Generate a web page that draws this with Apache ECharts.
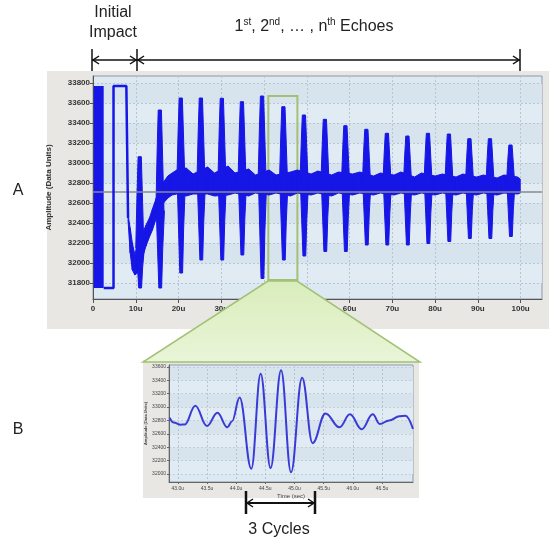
<!DOCTYPE html>
<html>
<head>
<meta charset="utf-8">
<script src="https://cdn.jsdelivr.net/npm/echarts@6/dist/echarts.min.js"></script>
<style>
html, body { margin: 0; padding: 0; background: #fff; }
#main { width: 550px; height: 542px; }
</style>
</head>
<body>
<div id="main"></div>
<script>
// ---- chart A : full record ----
const xTicksA = [0, 10, 20, 30, 40, 50, 60, 70, 80, 90, 100];
const yTicksA = [31800, 32000, 32200, 32400, 32600, 32800, 33000, 33200, 33400, 33600, 33800];

// noise band between echoes (time, low, high)
const bandT  = [8.2, 8.7, 9.2, 9.8, 10.4, 11.6, 12.4, 13.2, 13.9, 14.8, 15.5, 16.5, 17.5, 18.5, 19.6,
                21.8, 23.4, 26.8, 28.4, 31.6, 33.2, 36.4, 38.0, 41.2, 42.8, 46.2, 47.8, 51.0, 52.6,
                55.8, 57.4, 60.7, 62.4, 65.6, 67.2, 70.4, 72.0, 75.2, 76.8, 80.0, 81.7, 84.9, 86.5,
                89.7, 91.3, 94.5, 96.1, 99.3, 99.9];
const bandLo = [32420, 32100, 31930, 31880, 31900, 32060, 32170, 32260, 32330, 32450, 32500, 32600, 32650, 32680, 32690,
                32670, 32690, 32690, 32670, 32680, 32700, 32670, 32700, 32680, 32700, 32670, 32700, 32680, 32700,
                32670, 32700, 32680, 32700, 32680, 32700, 32680, 32700, 32680, 32700, 32680, 32700, 32680, 32700,
                32680, 32700, 32680, 32700, 32690, 32700];
const bandHi = [32480, 32350, 32200, 32080, 32200, 32300, 32380, 32450, 32540, 32650, 32700, 32810, 32870, 32900, 32930,
                32950, 32890, 32960, 32900, 32970, 32900, 32940, 32880, 32930, 32880, 32910, 32930, 32890, 32920,
                32880, 32910, 32890, 32910, 32870, 32900, 32880, 32910, 32860, 32900, 32870, 32890, 32860, 32890,
                32860, 32880, 32850, 32880, 32860, 32840];

// echo bursts
const echoT      = [11.0, 15.7, 20.6, 25.3, 30.2, 34.9, 39.6, 44.6, 49.4, 54.3, 59.1, 64.0, 68.8, 73.6, 78.4, 83.3, 88.1, 92.9, 97.7];
const echoTop    = [33063, 33530, 33650, 33650, 33647, 33613, 33670, 33563, 33480, 33437, 33373, 33337, 33297, 33270, 33297, 33290, 33243, 33243, 33180];
const echoBottom = [31750, 31750, 31900, 32030, 32030, 32080, 31845, 32030, 32070, 32115, 32115, 32180, 32180, 32180, 32195, 32215, 32245, 32245, 32265];
const echoMid    = [32150, 32520, 32800, 32800, 32800, 32800, 32800, 32800, 32800, 32800, 32800, 32800, 32800, 32800, 32800, 32800, 32800, 32800, 32800];

// initial impact: saturated block and the second square pulse
const blockT = [0.16, 2.5];
const blockV = [31750, 33770];
const pulseT = [2.5, 4.8, 4.8, 7.8, 8.2];
const pulseV = [31750, 31750, 33770, 33770, 32450];
const baseline = 32710;

// ---- chart B : zoom on one echo (turning points of the wave) ----
const xTicksB = [43.0, 43.5, 44.0, 44.5, 45.0, 45.5, 46.0, 46.5];
const yTicksB = [32000, 32200, 32400, 32600, 32800, 33000, 33200, 33400, 33600];
const timeB = [42.86, 42.93, 43.05, 43.12, 43.30, 43.50, 43.68, 43.85, 43.93, 44.06, 44.26, 44.42, 44.59,
               44.77, 44.94, 45.13, 45.31, 45.53, 45.77, 45.95, 46.15, 46.34, 46.46, 46.62, 46.80, 46.90, 47.03];
const ampB  = [32842, 32770, 32738, 32740, 33020, 32718, 32916, 32698, 32790, 33144, 32079, 33500, 32089,
               33550, 32025, 33441, 32461, 32906, 32698, 32892, 32669, 32892, 32748, 32800, 32865, 32870, 32674];

const BLUE = '#1616e6';
const PANEL = '#e8e7e4';
const PLOT = '#dce8f2';
const myChart = echarts.init(document.getElementById('main'));

function renderBand(params, api) {
  const i = params.dataIndex;
  if (i >= bandT.length - 1) return;
  const pts = [
    api.coord([bandT[i], bandHi[i]]),
    api.coord([bandT[i + 1], bandHi[i + 1]]),
    api.coord([bandT[i + 1], bandLo[i + 1]]),
    api.coord([bandT[i], bandLo[i]])
  ];
  return { type: 'polygon', shape: { points: pts }, style: { fill: BLUE, stroke: BLUE, lineWidth: 1 } };
}

function renderEcho(params, api) {
  const c = api.value(0), top = api.value(1), bot = api.value(2), mid = api.value(3);
  const h = top - mid, d = mid - bot;
  const up = [[c - 1.0, mid], [c - 0.7, mid + 0.6 * h], [c - 0.45, top], [c + 0.3, top], [c + 0.6, mid + 0.5 * h], [c + 0.9, mid]];
  const dn = [[c - 0.9, mid], [c - 0.6, mid - 0.5 * d], [c - 0.3, bot], [c + 0.35, bot], [c + 0.6, mid - 0.5 * d], [c + 1.0, mid]];
  const st = { fill: BLUE, stroke: BLUE, lineWidth: 1 };
  return {
    type: 'group',
    children: [
      { type: 'polygon', shape: { points: up.map(p => api.coord(p)) }, style: st },
      { type: 'polygon', shape: { points: dn.map(p => api.coord(p)) }, style: st }
    ]
  };
}

// little open arrow heads for the annotations
function head(x, y, dir) {
  return {
    type: 'polyline', z: 50,
    shape: { points: [[x + 6 * dir, y - 4], [x, y], [x + 6 * dir, y + 4]] },
    style: { stroke: '#111', lineWidth: 1.5, fill: null }
  };
}
function line(x1, y1, x2, y2, w) {
  return { type: 'line', z: 50, shape: { x1: x1, y1: y1, x2: x2, y2: y2 }, style: { stroke: '#111', lineWidth: w } };
}

const axisTxt = { fontSize: 8, fontWeight: 'bold', color: '#333', fontFamily: 'Liberation Sans' };
const smallTxt = { fontSize: 5, color: '#444', fontFamily: 'Liberation Sans' };
const annTxt = { fill: '#222', fontSize: 16, fontFamily: 'Liberation Sans' };

const option = {
  animation: false,
  grid: [
    { left: 93, top: 76, width: 449, height: 223, show: true, backgroundColor: PLOT, borderColor: '#8f9aa3', borderWidth: 1 },
    { left: 169, top: 365, width: 244, height: 117, show: true, backgroundColor: PLOT, borderColor: '#8f9aa3', borderWidth: 1 }
  ],
  xAxis: [
    {
      type: 'value', gridIndex: 0, min: 0, max: 105,
      axisLine: { show: true, lineStyle: { color: '#555' } },
      axisTick: { show: true, customValues: xTicksA, length: 4, lineStyle: { color: '#555' } },
      axisLabel: Object.assign({ customValues: xTicksA, margin: 6, formatter: v => v === 0 ? '0' : v + 'u' }, axisTxt),
      splitLine: { show: true, lineStyle: { type: [2, 2], color: '#b9c5ce' } }
    },
    {
      type: 'value', gridIndex: 1, min: 42.85, max: 47.03,
      name: 'Time (sec)', nameLocation: 'middle', nameGap: 11,
      nameTextStyle: { fontSize: 6, color: '#444', fontFamily: 'Liberation Sans' },
      axisLine: { show: true, lineStyle: { color: '#666' } },
      axisTick: { show: true, customValues: xTicksB, length: 2, lineStyle: { color: '#666' } },
      axisLabel: Object.assign({ customValues: xTicksB, margin: 4, formatter: v => v.toFixed(1) + 'u' }, smallTxt),
      splitLine: { show: true, lineStyle: { type: [2, 2], color: '#b9c5ce' } }
    }
  ],
  yAxis: [
    {
      type: 'value', gridIndex: 0, min: 31640, max: 33870,
      name: 'Amplitude (Data Units)', nameLocation: 'middle', nameGap: 40, nameTextStyle: axisTxt,
      axisLine: { show: true, lineStyle: { color: '#555' } },
      axisTick: { show: true, customValues: yTicksA, length: 3, lineStyle: { color: '#555' } },
      axisLabel: Object.assign({ customValues: yTicksA, margin: 3, formatter: v => String(v) }, axisTxt),
      splitLine: { show: true, lineStyle: { type: [2, 2], color: '#b9c5ce' } },
      splitArea: { show: true, areaStyle: { color: ['#e1ebf4', '#d7e4ee'] } }
    },
    {
      type: 'value', gridIndex: 1, min: 31880, max: 33630,
      name: 'Amplitude (Data Units)', nameLocation: 'middle', nameGap: 20,
      nameTextStyle: { fontSize: 4, fontWeight: 'bold', color: '#444', fontFamily: 'Liberation Sans' },
      axisLine: { show: true, lineStyle: { color: '#666' } },
      axisTick: { show: true, customValues: yTicksB, length: 2, lineStyle: { color: '#666' } },
      axisLabel: Object.assign({ customValues: yTicksB, margin: 3, formatter: v => String(v) }, smallTxt),
      splitLine: { show: true, lineStyle: { type: [2, 2], color: '#c3ced6' } },
      splitArea: { show: true, areaStyle: { color: ['#e1ebf4', '#d7e4ee'] } }
    }
  ],
  series: [
    {
      type: 'custom', xAxisIndex: 0, yAxisIndex: 0, clip: true, silent: true,
      data: bandT.map((t, i) => [t, bandLo[i], bandHi[i]]),
      encode: { x: 0, y: [1, 2] },
      renderItem: renderBand
    },
    {
      type: 'custom', xAxisIndex: 0, yAxisIndex: 0, clip: true, silent: true,
      data: echoT.map((t, i) => [t, echoTop[i], echoBottom[i], echoMid[i]]),
      encode: { x: 0, y: [1, 2] },
      renderItem: renderEcho
    },
    {
      type: 'line', xAxisIndex: 0, yAxisIndex: 0, z: 5, silent: true,
      data: pulseT.map((t, i) => [t, pulseV[i]]),
      symbol: 'none',
      lineStyle: { color: BLUE, width: 2.5 },
      markArea: {
        silent: true,
        data: [
          [{ xAxis: blockT[0], yAxis: blockV[0], itemStyle: { color: BLUE } },
           { xAxis: blockT[1], yAxis: blockV[1] }],
          [{ xAxis: 41.0, yAxis: 33670, itemStyle: { color: 'rgba(0,0,0,0)', borderColor: '#a3c176', borderWidth: 2 } },
           { xAxis: 47.8, yAxis: 31830 }]
        ]
      },
      markLine: {
        silent: true, symbol: 'none', label: { show: false },
        lineStyle: { color: '#8a8a8a', width: 1.5, type: 'solid' },
        data: [{ yAxis: baseline }]
      }
    },
    {
      type: 'line', xAxisIndex: 1, yAxisIndex: 1, silent: true,
      data: timeB.map((t, i) => [t, ampB[i]]),
      symbol: 'none', smooth: 0.4, smoothMonotone: 'x',
      lineStyle: { color: '#3a3ad6', width: 2 }
    }
  ],
  graphic: [
    { type: 'rect', z: -100, shape: { x: 47, y: 71, width: 502, height: 258 }, style: { fill: PANEL } },
    { type: 'rect', z: -100, shape: { x: 143, y: 360, width: 276, height: 138 }, style: { fill: PANEL } },
    {
      type: 'polygon', z: 100,
      shape: { points: [[268, 281], [297, 281], [420, 362], [143, 362]] },
      style: {
        stroke: '#a3c176', lineWidth: 1.5,
        fill: new echarts.graphic.LinearGradient(0, 0, 0, 1, [
          { offset: 0, color: '#d9edbb' }, { offset: 1, color: '#e9f5d8' }
        ])
      }
    },
    // top annotations
    { type: 'text', z: 50, style: Object.assign({ text: 'Initial', x: 113, y: 13, align: 'center', verticalAlign: 'middle' }, annTxt) },
    { type: 'text', z: 50, style: Object.assign({ text: 'Impact', x: 113, y: 33, align: 'center', verticalAlign: 'middle' }, annTxt) },
    {
      type: 'text', z: 50,
      style: {
        x: 314, y: 27, align: 'center', verticalAlign: 'middle', fill: '#222', fontFamily: 'Liberation Sans',
        text: '{a|1}{s|st}{a|, 2}{s|nd}{a|, … , n}{s|th}{a| Echoes}',
        rich: {
          a: { fontSize: 16, fontFamily: 'Liberation Sans', fill: '#222', lineHeight: 20 },
          s: { fontSize: 10, fontFamily: 'Liberation Sans', fill: '#222', lineHeight: 20, padding: [0, 0, 9, 0] }
        }
      }
    },
    line(92, 49, 92, 71, 1.5), line(137, 49, 137, 71, 1.5), line(520, 49, 520, 71, 1.5),
    line(92, 60, 137, 60, 1.5), line(137, 60, 520, 60, 1.5),
    head(93, 60, 1), head(136, 60, -1), head(138, 60, 1), head(519, 60, -1),
    { type: 'text', z: 50, style: Object.assign({ text: 'A', x: 18, y: 191, align: 'center', verticalAlign: 'middle' }, annTxt) },
    { type: 'text', z: 50, style: Object.assign({ text: 'B', x: 18, y: 430, align: 'center', verticalAlign: 'middle' }, annTxt) },
    // 3 cycles marker
    line(246, 491, 246, 514, 2.5), line(315, 491, 315, 514, 2.5), line(246, 503, 315, 503, 2),
    head(247, 503, 1), head(314, 503, -1),
    { type: 'text', z: 50, style: Object.assign({ text: '3 Cycles', x: 279, y: 530, align: 'center', verticalAlign: 'middle' }, annTxt) }
  ]
};

myChart.setOption(option);
</script>
</body>
</html>
